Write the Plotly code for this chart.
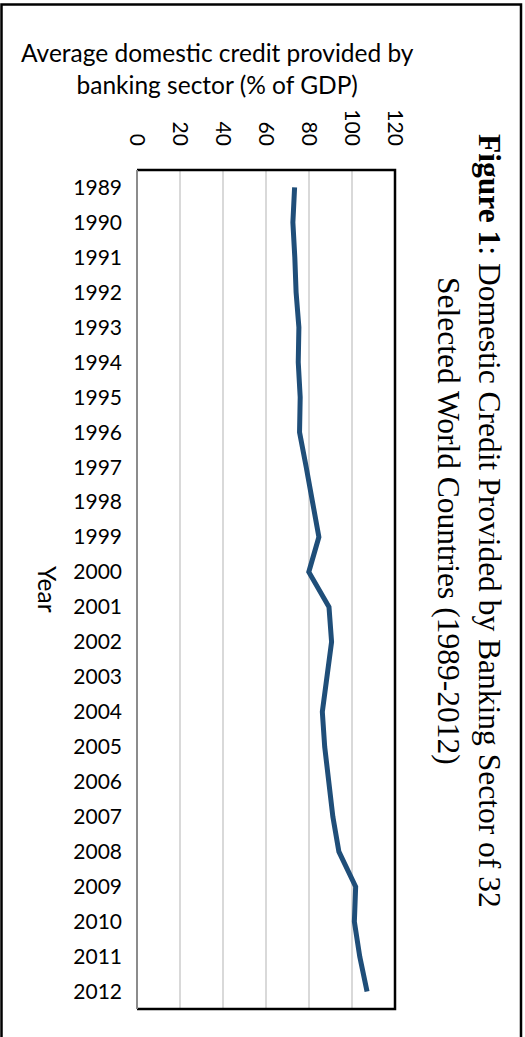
import plotly.graph_objects as go

# Average domestic credit provided by banking sector (% of GDP), 32 countries
years = [str(y) for y in range(1989, 2013)]
credit = [73.3, 72.5, 73.4, 74.0, 75.3, 75.0, 75.9, 75.6, 78.7, 81.8, 84.6, 79.9,
          89.3, 90.5, 88.3, 86.2, 87.3, 89.3, 91.1, 93.9, 101.7, 101.1, 103.6, 107.0]
x_ticks = [0, 20, 40, 60, 80, 100, 120]

W, H = 525, 1037
ML, MR, MT, MB = 137, 130, 170, 28
PW, PH = W - ML - MR, H - MT - MB

def px_x(p):
    return (p - ML) / PW

def px_y(p):
    return (H - MB - p) / PH

sans = "Lato, 'Open Sans', sans-serif"
serif = "'Liberation Serif', 'Times New Roman', serif"

fig = go.Figure()
fig.add_trace(go.Scatter(
    x=credit, y=years, mode="lines",
    line=dict(color="#1F4E79", width=5),
    hoverinfo="x+y", showlegend=False,
))

fig.update_layout(
    width=W, height=H,
    margin=dict(l=ML, r=MR, t=MT, b=MB),
    paper_bgcolor="white", plot_bgcolor="white",
    font=dict(family=sans, size=21, color="black"),
    xaxis=dict(
        side="top", range=[0, 120], tickvals=x_ticks,
        ticktext=[str(v) for v in x_ticks], tickangle=90,
        showgrid=True, gridcolor="#D9D9D9", gridwidth=1.5,
        zeroline=False, showline=False, ticks="",
        ticklabelstandoff=20,
        tickfont=dict(family=sans, size=21),
    ),
    yaxis=dict(
        type="category", categoryorder="array", categoryarray=years,
        range=[len(years) - 0.5, -0.5], showgrid=False, zeroline=False,
        showline=False, ticks="", ticklabelstandoff=14,
        tickfont=dict(family=sans, size=21),
    ),
)

shapes = [
    # outer frame (open at the bottom)
    dict(type="path", xref="paper", yref="paper",
         path=f"M {px_x(1.5)} {px_y(H + 20)} L {px_x(1.5)} {px_y(4.5)} "
              f"L {px_x(521)} {px_y(4.5)} L {px_x(521)} {px_y(H + 20)}",
         line=dict(color="black", width=2.5)),
    # plot area border: top, right, bottom
    dict(type="path", xref="paper", yref="paper",
         path="M 0 1 L 1 1 L 1 0 L 0 0",
         line=dict(color="black", width=2.5)),
    # value axis side
    dict(type="line", xref="paper", yref="paper", x0=0, x1=0, y0=0, y1=1,
         line=dict(color="#8C8C8C", width=2)),
]
fig.update_layout(shapes=shapes)

annotations = [
    dict(text="Average domestic credit provided by<br>banking sector (% of GDP)",
         xref="paper", yref="paper", x=px_x(217), y=px_y(68),
         xanchor="center", yanchor="middle", showarrow=False, align="center",
         font=dict(family=sans, size=24.5, color="black")),
    dict(text="Year", xref="paper", yref="paper", x=px_x(48), y=px_y(589),
         xanchor="center", yanchor="middle", showarrow=False, textangle=90,
         font=dict(family=sans, size=24.5, color="black")),
    dict(text="<b>Figure 1</b>: Domestic Credit Provided by Banking Sector of 32<br>"
              "Selected World Countries (1989-2012)",
         xref="paper", yref="paper", x=px_x(469), y=px_y(521),
         xanchor="center", yanchor="middle", showarrow=False, textangle=90,
         align="center",
         font=dict(family=serif, size=31.5, color="black")),
]
fig.update_layout(annotations=annotations)

fig.write_html("out.html")
